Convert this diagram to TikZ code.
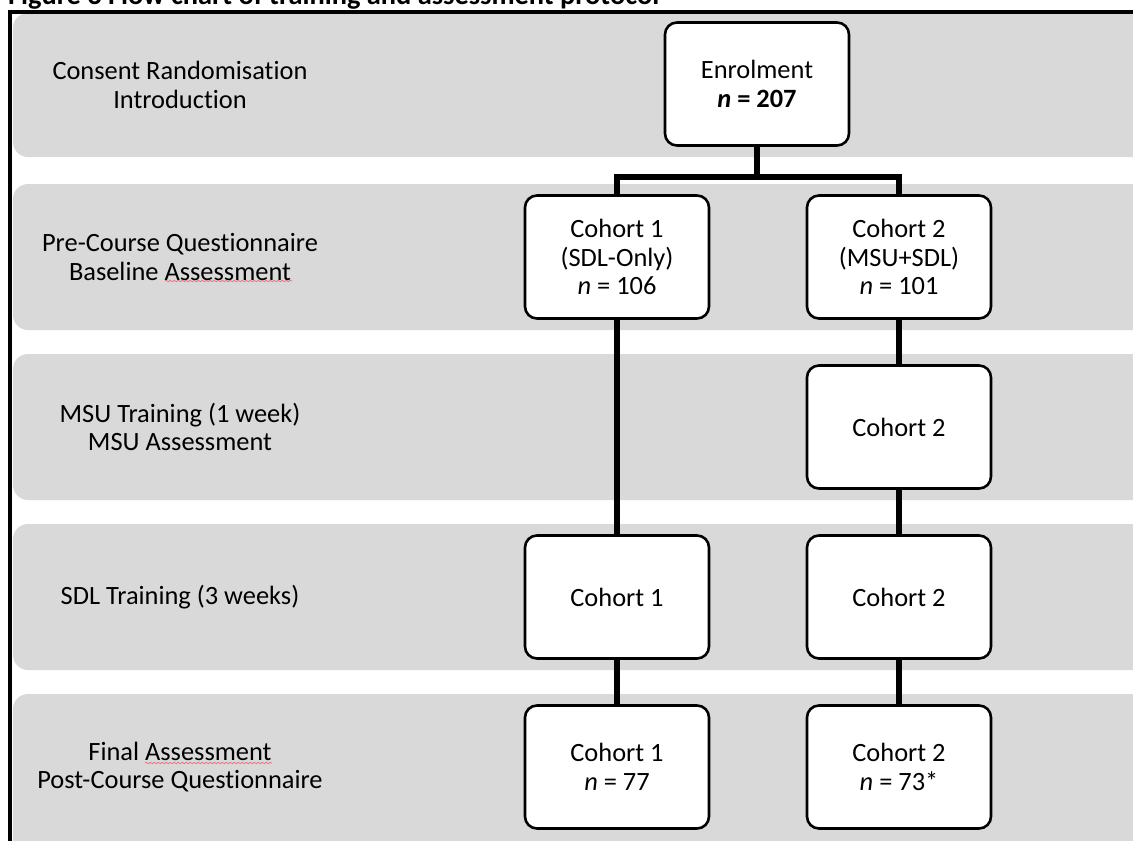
\documentclass[tikz,border=0pt]{standalone}
\usepackage{fontspec}
\setmainfont{Carlito}[RawFeature=-liga, RawFeature=-clig, RawFeature=-calt, RawFeature=-rlig, RawFeature=-dlig]
\usetikzlibrary{decorations.pathmorphing}
\definecolor{bandgray}{HTML}{D9D9D9}
\definecolor{squiggle}{HTML}{E8707A}
\tikzset{
  bandbox/.style={fill=bandgray, draw=none, rounded corners=15pt},
  rowlabel/.style={font=\fontsize{26.4}{28.5}\selectfont, align=center, text=black, inner sep=0pt},
  flowbox/.style={draw=black, line width=2.6pt, fill=white, rounded corners=12pt,
    minimum width=184pt, minimum height=123pt, align=center, inner sep=0pt,
    font=\fontsize{26.4}{28.5}\selectfont},
  link/.style={line width=6pt, line join=miter},
  frameline/.style={line width=4pt, line join=miter},
  spell/.style={draw=squiggle, line width=0.7pt, decorate,
    decoration={snake, amplitude=0.7pt, segment length=4pt}}
}
\begin{document}
\begin{tikzpicture}[x=1pt,y=-1pt]
\useasboundingbox (0,0) rectangle (1133,841);
\clip (0,0) rectangle (1133,841);
\fill[white] (0,0) rectangle (1133,841);

% title (cropped at top, as in the reference)
\node[anchor=base west, inner sep=0pt, font=\bfseries\fontsize{28.4}{30}\selectfont] (title) at (8,4) {Figure 3 Flow chart of training and assessment protocol};

% bands
\path[bandbox] (13,13) rectangle (1170,157);
\path[bandbox] (13,184) rectangle (1170,330);
\path[bandbox] (13,354) rectangle (1170,500);
\path[bandbox] (13,524) rectangle (1170,670);
\path[bandbox] (13,694) rectangle (1170,880);

% frame
\draw[frameline] (10,845) -- (10,11.5) -- (1140,11.5);

% row labels
\node[rowlabel] (l1) at (180,85) {Consent Randomisation\\Introduction};
\node[rowlabel] (l2) at (180,257) {Pre-Course Questionnaire\\Baseline Assessment};
\node[rowlabel] (l3) at (180,427) {MSU Training (1 week)\\MSU Assessment};
\node[rowlabel] (l4) at (180,597) {SDL Training (3 weeks)};
\node[rowlabel] (l5) at (180,767) {Final Assessment\\Post-Course Questionnaire};

% spell-check underlines
\path[spell] (165,281) -- (292,281);
\path[spell] (145,763) -- (272,763);

% boxes
\node[flowbox] (enrol) at (757,84) {Enrolment\\\textbf{\textit{n} = 207}};
\node[flowbox] (c1a) at (617,257) {Cohort 1\\(SDL-Only)\\\textit{n} = 106};
\node[flowbox] (c2a) at (899,257) {Cohort 2\\(MSU+SDL)\\\textit{n} = 101};
\node[flowbox] (c2b) at (899,427) {Cohort 2};
\node[flowbox] (c1c) at (617,597) {Cohort 1};
\node[flowbox] (c2c) at (899,597) {Cohort 2};
\node[flowbox] (c1d) at (617,767) {Cohort 1\\\textit{n} = 77};
\node[flowbox] (c2d) at (899,767) {Cohort 2\\\textit{n} = 73*};

% connectors
\coordinate (split) at (757,176.5);
\draw[link] (enrol.south) -- (split);
\draw[link] (c1a.north) |- (split) -| (c2a.north);
\draw[link] (c1a.south) -- (c1c.north);
\draw[link] (c2a.south) -- (c2b.north);
\draw[link] (c2b.south) -- (c2c.north);
\draw[link] (c1c.south) -- (c1d.north);
\draw[link] (c2c.south) -- (c2d.north);
\end{tikzpicture}
\end{document}
